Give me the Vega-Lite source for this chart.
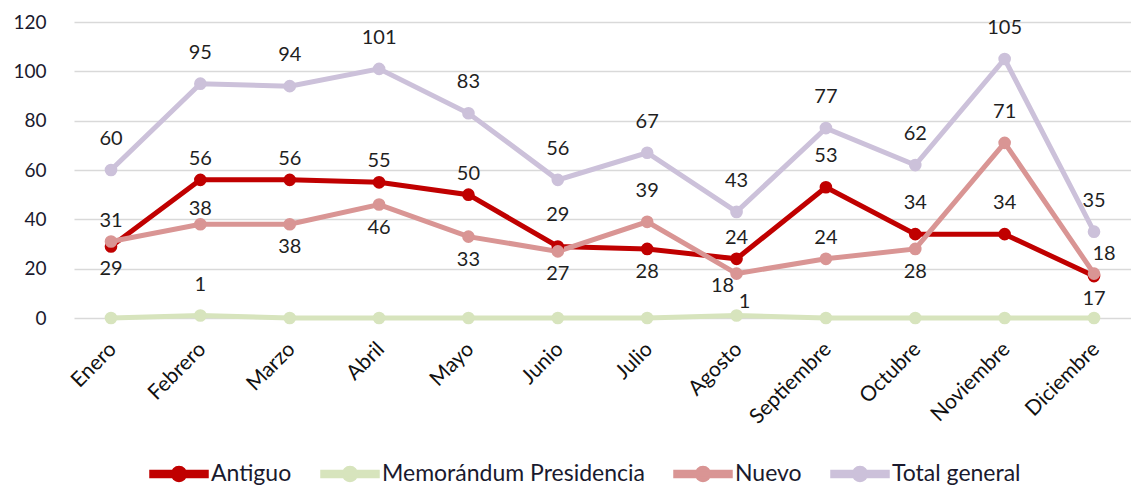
{
  "$schema": "https://vega.github.io/schema/vega-lite/v6.json",
  "width": 1057,
  "height": 296,
  "autosize": {"type": "none"},
  "padding": {"left": 74, "top": 22, "right": 0, "bottom": 169},
  "background": "white",
  "config": {"view": {"stroke": null}, "font": "Lato", "text": {"font": "Lato"}},
  "data": {"values": [
    {"mes": "Enero", "serie": "Antiguo", "valor": 29},
    {"mes": "Febrero", "serie": "Antiguo", "valor": 56},
    {"mes": "Marzo", "serie": "Antiguo", "valor": 56},
    {"mes": "Abril", "serie": "Antiguo", "valor": 55},
    {"mes": "Mayo", "serie": "Antiguo", "valor": 50},
    {"mes": "Junio", "serie": "Antiguo", "valor": 29},
    {"mes": "Julio", "serie": "Antiguo", "valor": 28},
    {"mes": "Agosto", "serie": "Antiguo", "valor": 24},
    {"mes": "Septiembre", "serie": "Antiguo", "valor": 53},
    {"mes": "Octubre", "serie": "Antiguo", "valor": 34},
    {"mes": "Noviembre", "serie": "Antiguo", "valor": 34},
    {"mes": "Diciembre", "serie": "Antiguo", "valor": 17},
    {"mes": "Enero", "serie": "Memorándum Presidencia", "valor": 0},
    {"mes": "Febrero", "serie": "Memorándum Presidencia", "valor": 1},
    {"mes": "Marzo", "serie": "Memorándum Presidencia", "valor": 0},
    {"mes": "Abril", "serie": "Memorándum Presidencia", "valor": 0},
    {"mes": "Mayo", "serie": "Memorándum Presidencia", "valor": 0},
    {"mes": "Junio", "serie": "Memorándum Presidencia", "valor": 0},
    {"mes": "Julio", "serie": "Memorándum Presidencia", "valor": 0},
    {"mes": "Agosto", "serie": "Memorándum Presidencia", "valor": 1},
    {"mes": "Septiembre", "serie": "Memorándum Presidencia", "valor": 0},
    {"mes": "Octubre", "serie": "Memorándum Presidencia", "valor": 0},
    {"mes": "Noviembre", "serie": "Memorándum Presidencia", "valor": 0},
    {"mes": "Diciembre", "serie": "Memorándum Presidencia", "valor": 0},
    {"mes": "Enero", "serie": "Nuevo", "valor": 31},
    {"mes": "Febrero", "serie": "Nuevo", "valor": 38},
    {"mes": "Marzo", "serie": "Nuevo", "valor": 38},
    {"mes": "Abril", "serie": "Nuevo", "valor": 46},
    {"mes": "Mayo", "serie": "Nuevo", "valor": 33},
    {"mes": "Junio", "serie": "Nuevo", "valor": 27},
    {"mes": "Julio", "serie": "Nuevo", "valor": 39},
    {"mes": "Agosto", "serie": "Nuevo", "valor": 18},
    {"mes": "Septiembre", "serie": "Nuevo", "valor": 24},
    {"mes": "Octubre", "serie": "Nuevo", "valor": 28},
    {"mes": "Noviembre", "serie": "Nuevo", "valor": 71},
    {"mes": "Diciembre", "serie": "Nuevo", "valor": 18},
    {"mes": "Enero", "serie": "Total general", "valor": 60},
    {"mes": "Febrero", "serie": "Total general", "valor": 95},
    {"mes": "Marzo", "serie": "Total general", "valor": 94},
    {"mes": "Abril", "serie": "Total general", "valor": 101},
    {"mes": "Mayo", "serie": "Total general", "valor": 83},
    {"mes": "Junio", "serie": "Total general", "valor": 56},
    {"mes": "Julio", "serie": "Total general", "valor": 67},
    {"mes": "Agosto", "serie": "Total general", "valor": 43},
    {"mes": "Septiembre", "serie": "Total general", "valor": 77},
    {"mes": "Octubre", "serie": "Total general", "valor": 62},
    {"mes": "Noviembre", "serie": "Total general", "valor": 105},
    {"mes": "Diciembre", "serie": "Total general", "valor": 35}
  ]},
  "encoding": {
    "x": {
      "field": "mes", "type": "ordinal",
      "sort": ["Enero", "Febrero", "Marzo", "Abril", "Mayo", "Junio", "Julio", "Agosto", "Septiembre", "Octubre", "Noviembre", "Diciembre"],
      "scale": {"type": "point", "padding": 0.414},
      "axis": {"title": null, "labelAngle": -45, "labelFontSize": 21, "labelColor": "#111111", "labelFont": "Lato", "domain": false, "ticks": false, "grid": false, "labelPadding": 20, "labelOffset": -6}
    },
    "y": {
      "field": "valor", "type": "quantitative",
      "scale": {"domain": [0, 120], "nice": false},
      "axis": {"title": null, "values": [0, 20, 40, 60, 80, 100, 120], "grid": true, "gridColor": "#D9D9D9", "gridWidth": 1.4, "domain": false, "ticks": false, "tickSize": 0, "labelPadding": 28, "labelFontSize": 19, "labelColor": "#1a1a2e", "labelFont": "Lato"}
    }
  },
  "layer": [
    {
      "mark": {"type": "line", "strokeWidth": 5, "point": {"filled": true, "size": 160, "opacity": 1}},
      "encoding": {
        "color": {
          "field": "serie", "type": "nominal",
          "scale": {"domain": ["Antiguo", "Memorándum Presidencia", "Nuevo", "Total general"], "range": ["#C00000", "#D7E4BD", "#D99594", "#CCC1DA"]},
          "legend": {
            "title": null, "orient": "none", "direction": "horizontal", "legendX": 75, "legendY": 422,
            "padding": 0, "labelFontSize": 23, "labelFont": "Lato", "labelColor": "#1a1a2e", "labelLimit": 0,
            "symbolType": "M-1,-0.12L1,-0.12L1,0.12L-1,0.12Z M0.26,0 A0.26,0.26 0 1,1 -0.26,0 A0.26,0.26 0 1,1 0.26,0 Z",
            "symbolSize": 3364, "columnPadding": 26, "labelOffset": 2,
            "encode": {"symbols": {"update": {"fill": {"scale": "color", "field": "value"}, "stroke": {"value": "transparent"}, "fillOpacity": {"value": 1}, "opacity": {"value": 1}}}}
          }
        }
      }
    },
    {
      "transform": [{"filter": "!(datum.serie == 'Memorándum Presidencia' && datum.valor == 0) && indexof(['Antiguo|Febrero','Antiguo|Marzo','Antiguo|Abril','Antiguo|Mayo','Antiguo|Agosto','Nuevo|Enero','Nuevo|Septiembre','Nuevo|Febrero','Antiguo|Enero','Antiguo|Julio','Antiguo|Diciembre','Nuevo|Marzo','Nuevo|Abril','Nuevo|Mayo','Nuevo|Junio','Nuevo|Octubre','Nuevo|Agosto','Nuevo|Diciembre','Memorándum Presidencia|Agosto'], datum.serie + '|' + datum.mes) < 0"}],
      "mark": {"type": "text", "fontSize": 20, "color": "#1f1f1f", "baseline": "middle", "dy": -31},
      "encoding": {"text": {"field": "valor", "type": "quantitative"}}
    },
    {
      "transform": [{"filter": "indexof(['Antiguo|Febrero','Antiguo|Marzo','Antiguo|Abril','Antiguo|Mayo','Antiguo|Agosto','Nuevo|Enero','Nuevo|Septiembre'], datum.serie + '|' + datum.mes) >= 0"}],
      "mark": {"type": "text", "fontSize": 20, "color": "#1f1f1f", "baseline": "middle", "dy": -21},
      "encoding": {"text": {"field": "valor", "type": "quantitative"}}
    },
    {
      "transform": [{"filter": "datum.serie == 'Nuevo' && datum.mes == 'Febrero'"}],
      "mark": {"type": "text", "fontSize": 20, "color": "#1f1f1f", "baseline": "middle", "dy": -15},
      "encoding": {"text": {"field": "valor", "type": "quantitative"}}
    },
    {
      "transform": [{"filter": "indexof(['Antiguo|Enero','Antiguo|Julio','Antiguo|Diciembre','Nuevo|Marzo','Nuevo|Abril','Nuevo|Mayo','Nuevo|Junio','Nuevo|Octubre'], datum.serie + '|' + datum.mes) >= 0"}],
      "mark": {"type": "text", "fontSize": 20, "color": "#1f1f1f", "baseline": "middle", "dy": 23},
      "encoding": {"text": {"field": "valor", "type": "quantitative"}}
    },
    {
      "transform": [{"filter": "datum.serie == 'Nuevo' && datum.mes == 'Agosto'"}],
      "mark": {"type": "text", "fontSize": 20, "color": "#1f1f1f", "baseline": "middle", "dx": -14, "dy": 12},
      "encoding": {"text": {"field": "valor", "type": "quantitative"}}
    },
    {
      "transform": [{"filter": "datum.serie == 'Nuevo' && datum.mes == 'Diciembre'"}],
      "mark": {"type": "text", "fontSize": 20, "color": "#1f1f1f", "baseline": "middle", "dx": 10, "dy": -20},
      "encoding": {"text": {"field": "valor", "type": "quantitative"}}
    },
    {
      "transform": [{"filter": "datum.serie == 'Memorándum Presidencia' && datum.mes == 'Agosto'"}],
      "mark": {"type": "text", "fontSize": 20, "color": "#1f1f1f", "baseline": "middle", "dx": 8, "dy": -14},
      "encoding": {"text": {"field": "valor", "type": "quantitative"}}
    }
  ]
}
